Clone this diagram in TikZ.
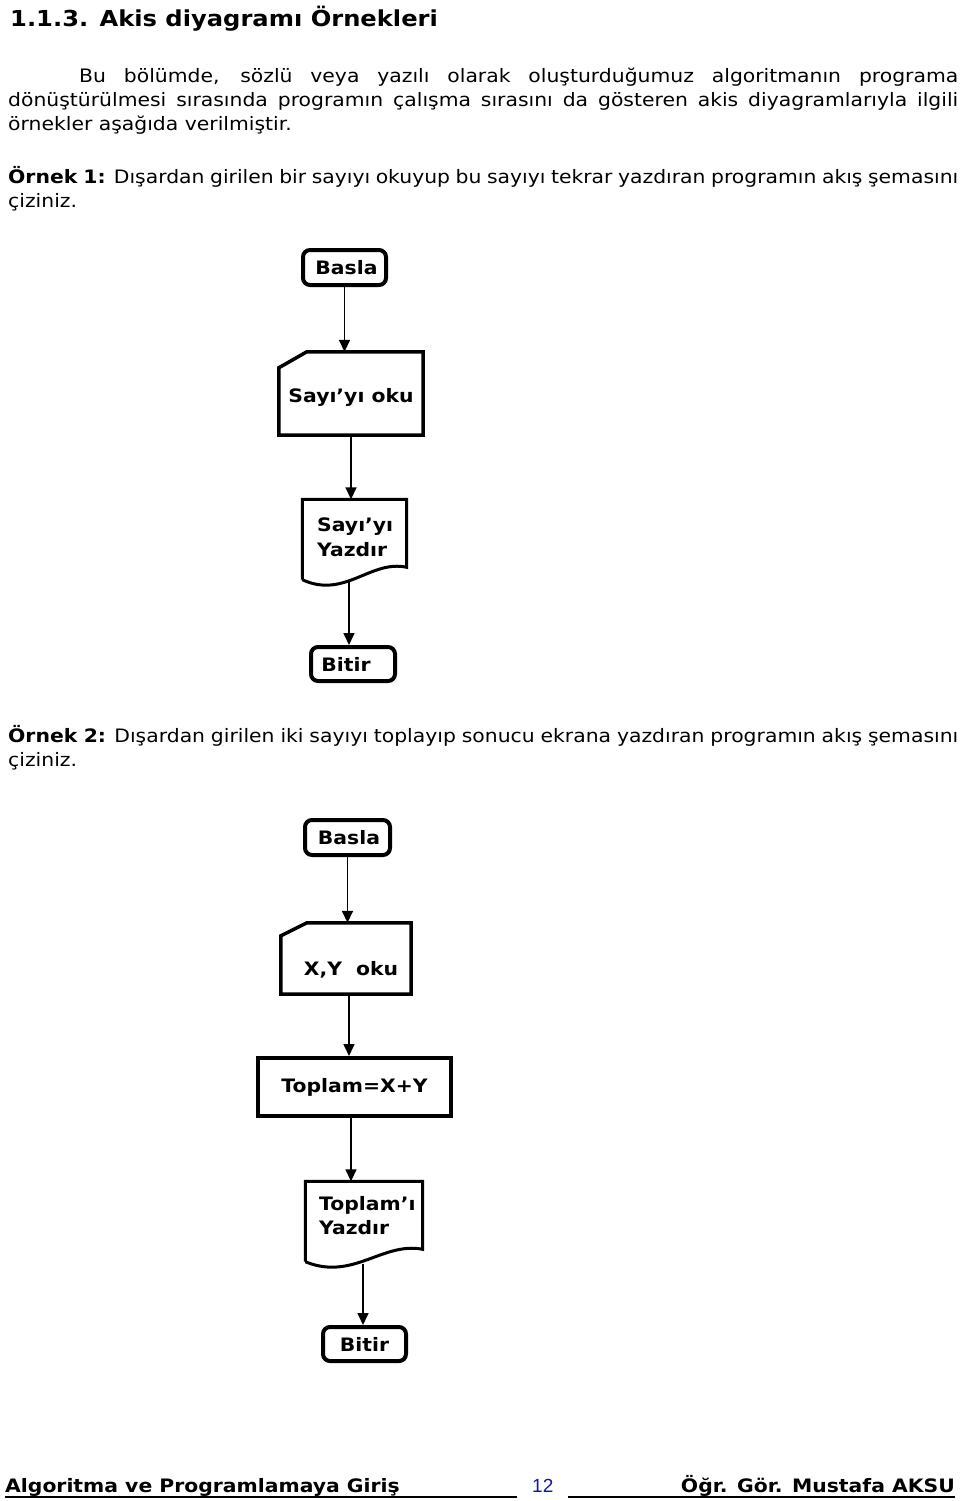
\documentclass[tikz,border=0pt]{standalone}
\usepackage{fontspec}
\setmainfont{DejaVu Sans}[FakeStretch=1.1]
\newfontfamily\numfont{Liberation Sans}
\usetikzlibrary{arrows.meta,calc}
\definecolor{pagenum}{RGB}{20,20,170}
\begin{document}
\begin{tikzpicture}[x=1pt,y=-1pt,
  txt/.style={anchor=base west,inner sep=0pt,font=\fontsize{18.5}{20}\selectfont},
  lbl/.style={anchor=base west,inner sep=0pt,font=\bfseries\fontsize{18.5}{20}\selectfont},
  term/.style={draw,line width=4pt,rounded corners=7pt,inner sep=0pt,font=\bfseries\fontsize{18.5}{20}\selectfont},
  procbox/.style={draw,line width=4pt,inner sep=0pt,font=\bfseries\fontsize{18.5}{20}\selectfont},
  ghost/.style={inner sep=0pt,draw=none},
  outline/.style={line width=3.5pt,line join=miter},
  arr/.style={line width=1.6pt,-{Triangle[length=12pt,width=11pt]}},
  foot/.style={anchor=base west,inner sep=0pt,font=\bfseries\fontsize{18.5}{20}\selectfont}
]
\useasboundingbox (0,0) rectangle (960,1501);
\fill[white] (0,0) rectangle (960,1501);

% title and text
\node[anchor=base west,inner sep=0pt,font=\bfseries\fontsize{22}{26}\selectfont] (title) at (10,27) {1.1.3. Akis diyagramı Örnekleri};
\node[txt] (p1) at (79,83) {\makebox[879pt][s]{Bu bölümde, sözlü veya yazılı olarak oluşturduğumuz algoritmanın programa}};
\node[txt] (p2) at (8,107) {\makebox[950pt][s]{dönüştürülmesi sırasında programın çalışma sırasını da gösteren akis diyagramlarıyla ilgili}};
\node[txt] (p3) at (8,131) {örnekler aşağıda verilmiştir.};
\node[txt] (o1) at (8,183) {\makebox[950pt][s]{\textbf{Örnek 1:} Dışardan girilen bir sayıyı okuyup bu sayıyı tekrar yazdıran programın akış şemasını}};
\node[txt] (o1b) at (8,207) {çiziniz.};
\node[txt] (o2) at (8,742) {\makebox[950pt][s]{\textbf{Örnek 2:} Dışardan girilen iki sayıyı toplayıp sonucu ekrana yazdıran programın akış şemasını}};
\node[txt] (o2b) at (8,766) {çiziniz.};

% ---- flowchart 1
\node[term,minimum width=83pt,minimum height=35pt] (b1) at (344.5,267.5) {\kern4pt Basla};
\node[ghost,minimum width=144pt,minimum height=83pt] (c1) at (351,393.5) {};
\draw[outline] ($(c1.north west)+(28,0)$) -- (c1.north east) -- (c1.south east) -- (c1.south west) -- ($(c1.north west)+(0,16)$) -- cycle;
\node[anchor=base,inner sep=0pt,font=\bfseries\fontsize{18.5}{20}\selectfont] (c1t) at (351,402) {Sayı’yı oku};
\node[ghost,minimum width=104pt,minimum height=80pt] (d1) at (354.5,539.5) {};
\draw[line width=3pt,line join=miter] (d1.south west) -- (d1.north west) -- (d1.north east) -- ($(d1.north east)+(0,68)$) .. controls ($(d1.north east)+(-36,60)$) and ($(d1.north east)+(-62,100)$) .. (d1.south west);
\node[lbl] (d1t1) at (317,531) {Sayı’yı};
\node[lbl] (d1t2) at (317,556) {Yazdır};
\coordinate (d1w) at (349,582);
\node[term,minimum width=84pt,minimum height=34pt] (e1) at (353,664) {Bitir\kern14pt};
\draw[arr] (b1.south) -- (b1.south |- c1.north);
\draw[arr] (c1.south) -- (c1.south |- d1.north);
\draw[arr] (d1w) -- (d1w |- e1.north);

% ---- flowchart 2
\node[term,minimum width=85pt,minimum height=35pt] (b2) at (347.5,837.5) {\kern3pt Basla};
\node[ghost,minimum width=130pt,minimum height=71pt] (c2) at (346,958.5) {};
\draw[outline] ($(c2.north west)+(26,0)$) -- (c2.north east) -- (c2.south east) -- (c2.south west) -- ($(c2.north west)+(0,13)$) -- cycle;
\node[anchor=base,inner sep=0pt,font=\bfseries\fontsize{18.5}{20}\selectfont] (c2t) at (351,975) {X,Y\ \ oku};
\node[procbox,minimum width=193pt,minimum height=58pt] (r2) at (354.5,1087) {Toplam=X+Y};
\node[ghost,minimum width=117pt,minimum height=80pt] (d2) at (364,1221.5) {};
\draw[line width=3pt,line join=miter] (d2.south west) -- (d2.north west) -- (d2.north east) -- ($(d2.north east)+(0,68)$) .. controls ($(d2.north east)+(-40,60)$) and ($(d2.north east)+(-70,100)$) .. (d2.south west);
\node[lbl] (d2t1) at (319,1210) {Toplam’ı};
\node[lbl] (d2t2) at (319,1234) {Yazdır};
\coordinate (d2w) at (363,1264);
\node[term,minimum width=83pt,minimum height=34pt] (e2) at (364.5,1344) {Bitir};
\draw[arr] (b2.south) -- (b2.south |- c2.north);
\draw[arr] ([xshift=3pt]c2.south) -- ([xshift=3pt]c2.south |- r2.north);
\draw[arr] ([xshift=-3.5pt]r2.south) -- ([xshift=-3.5pt]r2.south |- d2.north);
\draw[arr] (d2w) -- (d2w |- e2.north);

% ---- footer
\node[foot] (fl) at (5,1492) {Algoritma ve Programlamaya Giriş};
\node[anchor=base west,inner sep=0pt,font=\numfont\fontsize{19}{20}\selectfont,text=pagenum] (pn) at (532,1492) {12};
\node[foot,anchor=base east] (fr) at (955,1492) {Öğr. Gör. Mustafa AKSU};
\coordinate (ul1) at (5,1497);
\coordinate (ul2) at (517,1497);
\coordinate (ul3) at (568,1497);
\coordinate (ul4) at (955,1497);
\draw[line width=2pt] (ul1) -- (ul2);
\draw[line width=2pt] (ul3) -- (ul4);
\end{tikzpicture}
\end{document}
